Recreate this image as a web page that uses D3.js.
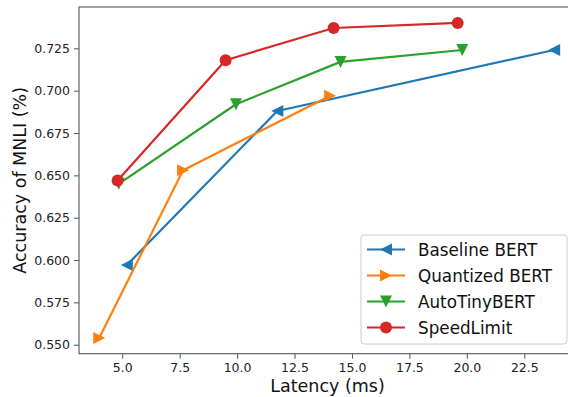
<!DOCTYPE html>
<html lang="en">
<head>
    <meta charset="UTF-8">
    <title>Latency vs MNLI accuracy</title>
    <script src="https://d3js.org/d3.v7.min.js"></script>
    <style>
        body {
            margin: 0;
            padding: 0;
            background: #fff;
        }
        svg {
            display: block;
            font-family: "DejaVu Sans", sans-serif;
        }
    </style>
</head>
<body>
    <svg id="chart" width="568" height="397"></svg>

    <script>
        // Data
        const seriesNames = ['Baseline BERT', 'Quantized BERT', 'AutoTinyBERT', 'SpeedLimit'];
        const baselineX = [5.2, 11.75, 23.8];
        const baselineY = [0.597, 0.688, 0.724];
        const quantizedX = [4.0, 7.65, 14.05];
        const quantizedY = [0.554, 0.653, 0.697];
        const autoTinyX = [4.85, 9.95, 14.5, 19.8];
        const autoTinyY = [0.645, 0.692, 0.717, 0.724];
        const speedLimitX = [4.8, 9.5, 14.2, 19.6];
        const speedLimitY = [0.647, 0.718, 0.737, 0.740];
        const xTicks = [5, 7.5, 10, 12.5, 15, 17.5, 20, 22.5];
        const yTicks = [0.55, 0.575, 0.6, 0.625, 0.65, 0.675, 0.7, 0.725];

        const colors = ['#1f77b4', '#ff7f0e', '#2ca02c', '#d62728'];
        const markers = ['left', 'right', 'down', 'circle'];

        const series = [
            [baselineX, baselineY],
            [quantizedX, quantizedY],
            [autoTinyX, autoTinyY],
            [speedLimitX, speedLimitY]
        ].map(([xs, ys], i) => ({
            name: seriesNames[i],
            color: colors[i],
            marker: markers[i],
            points: xs.map((x, j) => ({ x: x, y: ys[j] }))
        }));

        const svg = d3.select('#chart');
        const plotLeft = 79, plotRight = 576, plotTop = 7, plotBottom = 353.7;

        const x = d3.scaleLinear().domain([3.12, 24.75]).range([plotLeft, plotRight]);
        const y = d3.scaleLinear().domain([0.5447, 0.7494]).range([plotBottom, plotTop]);

        // marker path, size = full width in px (matplotlib style)
        function markerPath(type, s) {
            const h = s / 2;
            if (type === 'circle') {
                return d3.symbol().type(d3.symbolCircle).size(Math.PI * h * h)();
            }
            if (type === 'down') return `M${-h},${-h}L${h},${-h}L0,${h}Z`;
            if (type === 'left') return `M${-h},0L${h},${-h}L${h},${h}Z`;
            if (type === 'right') return `M${h},0L${-h},${-h}L${-h},${h}Z`;
            return `M0,${-h}L${h},${h}L${-h},${h}Z`;
        }

        // axes
        const xAxis = d3.axisBottom(x).tickValues(xTicks).tickFormat(d3.format('.1f')).tickSize(5).tickPadding(4);
        const yAxis = d3.axisLeft(y).tickValues(yTicks).tickFormat(d3.format('.3f')).tickSize(5).tickPadding(4);

        const gx = svg.append('g').attr('transform', `translate(0,${plotBottom})`).call(xAxis);
        const gy = svg.append('g').attr('transform', `translate(${plotLeft},0)`).call(yAxis);
        [gx, gy].forEach(g => {
            g.select('.domain').remove();
            g.selectAll('.tick line').attr('stroke', '#555').attr('stroke-width', 1);
            g.selectAll('.tick text')
                .attr('fill', '#222')
                .style('font-size', '12.5px')
                .style('font-family', '"DejaVu Sans", sans-serif');
        });

        // frame
        svg.append('rect')
            .attr('x', plotLeft)
            .attr('y', plotTop)
            .attr('width', 520)
            .attr('height', plotBottom - plotTop)
            .attr('fill', 'none')
            .attr('stroke', '#555')
            .attr('stroke-width', 1.1);

        // lines and markers
        const line = d3.line().x(d => x(d.x)).y(d => y(d.y));
        series.forEach(s => {
            const g = svg.append('g');
            g.append('path')
                .datum(s.points)
                .attr('d', line)
                .attr('fill', 'none')
                .attr('stroke', s.color)
                .attr('stroke-width', 2.2)
                .attr('stroke-linejoin', 'round');
            g.selectAll('path.mk')
                .data(s.points)
                .enter().append('path')
                .attr('class', 'mk')
                .attr('d', markerPath(s.marker, 12))
                .attr('transform', d => `translate(${x(d.x)},${y(d.y)})`)
                .attr('fill', s.color);
        });

        // axis labels
        svg.append('text')
            .attr('x', (plotLeft + plotRight) / 2)
            .attr('y', 392)
            .attr('text-anchor', 'middle')
            .attr('fill', '#111')
            .style('font-size', '17.5px')
            .text('Latency (ms)');

        svg.append('text')
            .attr('transform', `translate(26,${(plotTop + plotBottom) / 2}) rotate(-90)`)
            .attr('text-anchor', 'middle')
            .attr('fill', '#111')
            .style('font-size', '17.5px')
            .text('Accuracy of MNLI (%)');

        // legend
        const legend = svg.append('g');
        legend.append('rect')
            .attr('x', 361)
            .attr('y', 235)
            .attr('width', 206)
            .attr('height', 109)
            .attr('rx', 3)
            .attr('fill', '#fff')
            .attr('fill-opacity', 0.8)
            .attr('stroke', '#ccc');

        series.forEach((s, i) => {
            const ly = 249.5 + i * 26;
            legend.append('line')
                .attr('x1', 367).attr('x2', 405)
                .attr('y1', ly).attr('y2', ly)
                .attr('stroke', s.color)
                .attr('stroke-width', 2.2);
            legend.append('path')
                .attr('d', markerPath(s.marker, 12))
                .attr('transform', `translate(386,${ly})`)
                .attr('fill', s.color);
            legend.append('text')
                .attr('x', 418)
                .attr('y', ly)
                .attr('dy', '0.36em')
                .attr('fill', '#111')
                .style('font-size', '16.8px')
                .text(s.name);
        });
    </script>
</body>
</html>
